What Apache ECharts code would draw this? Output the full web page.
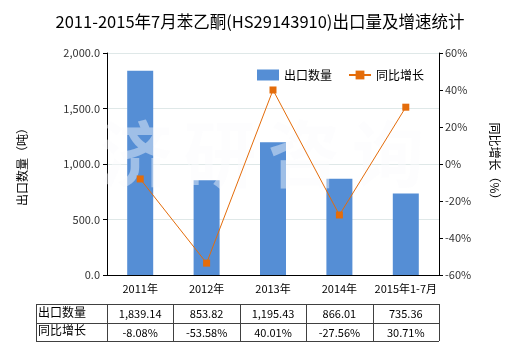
<!DOCTYPE html>
<html>
<head>
<meta charset="utf-8">
<script src="https://cdn.jsdelivr.net/npm/echarts@6/dist/echarts.min.js"></script>
<style>
  html, body { margin: 0; padding: 0; background: #fff; }
  #chart { width: 520px; height: 350px; }
</style>
</head>
<body>
<div id="chart"></div>
<script>
// Export volume (tonnes) and year-on-year growth (%)
const categories = ['2011年', '2012年', '2013年', '2014年', '2015年1-7月'];
const exportVolume = [1839.14, 853.82, 1195.43, 866.01, 735.36];
const yoyGrowth = [-8.08, -53.58, 40.01, -27.56, 30.71];
const volumeLabels = ['1,839.14', '853.82', '1,195.43', '866.01', '735.36'];
const growthLabels = ['-8.08%', '-53.58%', '40.01%', '-27.56%', '30.71%'];
const rowHeaders = ['出口数量', '同比增长'];

const FONT = "'Microsoft YaHei', 'Noto Sans CJK SC', sans-serif";
const BAR_COLOR = '#558ed5';
const LINE_COLOR = '#e46c0a';

const chart = echarts.init(document.getElementById('chart'));

const fmtThousands = v => v.toFixed(1).replace(/\B(?=(\d{3})+(?!\d))/g, ',');

chart.setOption({
  animation: false,
  backgroundColor: '#fff',
  textStyle: { fontFamily: FONT },
  title: {
    text: '2011-2015年7月苯乙酮(HS29143910)出口量及增速统计',
    left: 'center',
    top: 8,
    textStyle: { fontSize: 16.5, fontWeight: 'normal', color: '#000', fontFamily: FONT }
  },
  legend: {
    top: 64,
    left: 252,
    itemWidth: 22,
    itemHeight: 11,
    itemGap: 16,
    textStyle: { fontSize: 12, color: '#000', fontFamily: FONT },
    data: [
      { name: '出口数量', icon: 'rect' },
      { name: '同比增长' }
    ]
  },
  grid: { left: 107, right: 81, top: 53, bottom: 75 },
  xAxis: {
    type: 'category',
    data: categories,
    axisLine: { lineStyle: { color: '#000' } },
    axisTick: { alignWithLabel: true, length: 3, lineStyle: { color: '#000' } },
    axisLabel: { color: '#000', fontSize: 11, margin: 8, interval: 0 }
  },
  yAxis: [
    {
      type: 'value',
      min: 0, max: 2000, interval: 500,
      name: '出口数量（吨）',
      nameLocation: 'middle',
      nameGap: 79,
      nameRotate: 90,
      nameTextStyle: { fontSize: 12, color: '#000' },
      axisLine: { show: true, lineStyle: { color: '#000' } },
      axisTick: { show: true, length: 4, lineStyle: { color: '#000' } },
      axisLabel: { color: '#333', fontSize: 11, formatter: fmtThousands, margin: 7 },
      splitLine: { lineStyle: { color: '#dfe8e8' } }
    },
    {
      type: 'value',
      min: -60, max: 60, interval: 20,
      name: '同比增长（%）',
      nameLocation: 'middle',
      nameGap: 50,
      nameRotate: -90,
      nameTextStyle: { fontSize: 12, color: '#000' },
      axisLine: { show: true, lineStyle: { color: '#000' } },
      axisTick: { show: true, length: 4, lineStyle: { color: '#000' } },
      axisLabel: { color: '#333', fontSize: 11, formatter: '{value}%', margin: 6 },
      splitLine: { show: false }
    }
  ],
  series: [
    {
      name: '出口数量',
      type: 'bar',
      data: exportVolume,
      barWidth: 26,
      itemStyle: { color: BAR_COLOR },
      z: 2
    },
    {
      name: '同比增长',
      type: 'line',
      yAxisIndex: 1,
      data: yoyGrowth,
      symbol: 'rect',
      symbolSize: 7,
      lineStyle: { color: LINE_COLOR, width: 1 },
      itemStyle: { color: LINE_COLOR },
      z: 5
    }
  ]
});

// Watermark and data table under the plot, positioned from the axis scale
function drawExtras() {
  const centers = categories.map((c, i) => chart.convertToPixel({ xAxisIndex: 0 }, i));
  const step = centers[1] - centers[0];
  const tableLeft = 36;
  const colStart = centers[0] - step / 2;
  const colEnd = centers[centers.length - 1] + step / 2;
  const rowTop = 304;
  const rowH = 18.5;
  const elements = [];

  // Watermark
  const wm = ['济', '研', '咨', '询'];
  const wmLeft = 100, wmGap = 84;
  wm.forEach((ch, i) => {
    elements.push({
      type: 'text',
      z: 3,
      silent: true,
      style: {
        text: ch,
        x: wmLeft + i * wmGap,
        y: 118,
        fontSize: 72,
        fontWeight: 'bold',
        fontFamily: FONT,
        fill: 'rgba(250,251,253,0.45)'
      }
    });
  });

  const lineStyle = { stroke: '#404040', lineWidth: 1 };
  // Horizontal rules
  [0, 1, 2].forEach(r => {
    const y = Math.round(rowTop + r * rowH) + 0.5;
    elements.push({ type: 'line', shape: { x1: tableLeft, y1: y, x2: colEnd, y2: y }, style: lineStyle });
  });
  // Vertical rules
  const xs = [tableLeft, colStart].concat(centers.map(c => c + step / 2));
  xs.forEach(x => {
    const xx = Math.round(x) + 0.5;
    elements.push({ type: 'line', shape: { x1: xx, y1: rowTop, x2: xx, y2: rowTop + 2 * rowH }, style: lineStyle });
  });
  // Row headers
  rowHeaders.forEach((h, r) => {
    elements.push({
      type: 'text',
      style: {
        text: h, x: tableLeft + 2, y: rowTop + r * rowH + rowH / 2 - 1,
        verticalAlign: 'middle', align: 'left',
        fontSize: 12, fontFamily: FONT, fill: '#000'
      }
    });
  });
  // Values
  [volumeLabels, growthLabels].forEach((row, r) => {
    row.forEach((t, i) => {
      elements.push({
        type: 'text',
        style: {
          text: t, x: centers[i], y: rowTop + r * rowH + rowH / 2 + 1,
          verticalAlign: 'middle', align: 'center',
          fontSize: 11, fontFamily: FONT, fill: '#000'
        }
      });
    });
  });

  chart.setOption({ graphic: { elements } });
}
drawExtras();
</script>
</body>
</html>
